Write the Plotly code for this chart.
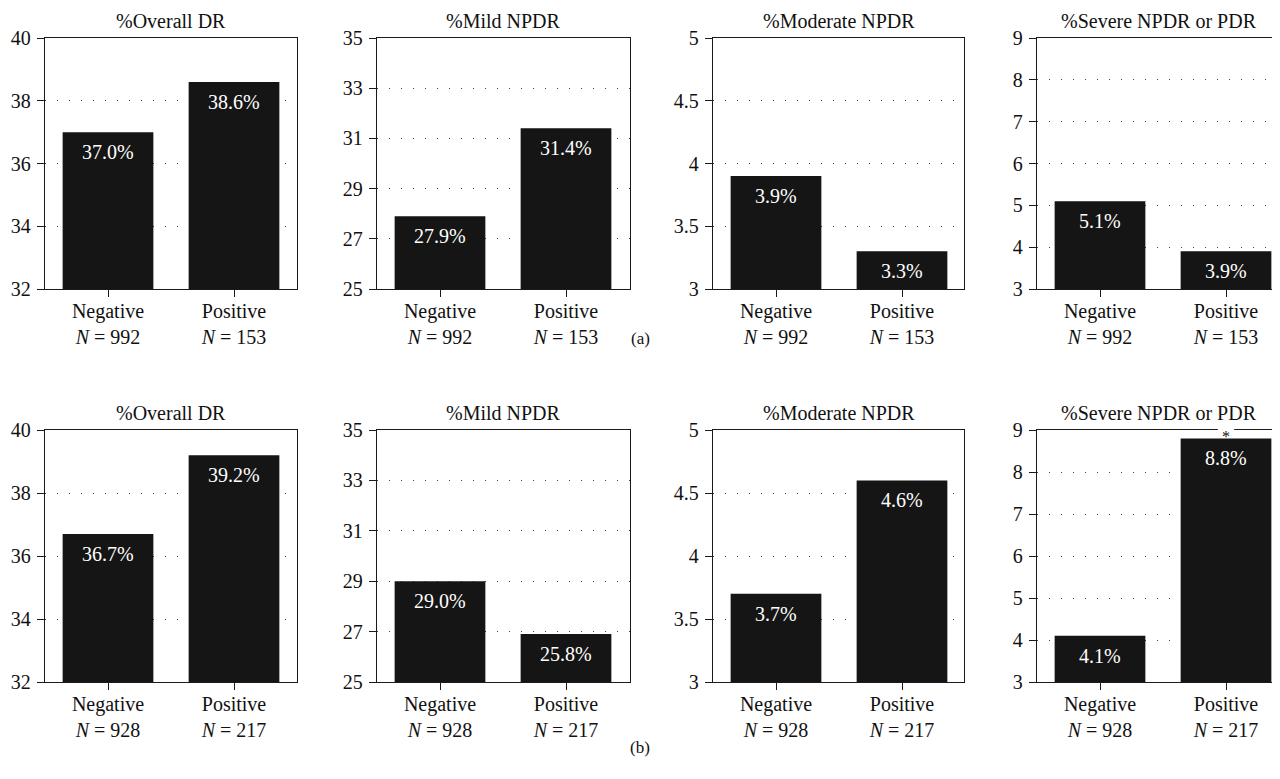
import plotly.graph_objects as go

# ---------------- data ----------------
categories = ["Negative", "Positive"]
titles = ["%Overall DR", "%Mild NPDR", "%Moderate NPDR", "%Severe NPDR or PDR"]

n_top = [992, 153]
n_bottom = [928, 217]

# bar heights as drawn in the picture
values_top = [
    [37.0, 38.6],
    [27.9, 31.4],
    [3.9, 3.3],
    [5.1, 3.9],
]
values_bottom = [
    [36.7, 39.2],
    [29.0, 26.9],
    [3.7, 4.6],
    [4.1, 8.8],
]
# printed value labels
labels_top = [
    ["37.0%", "38.6%"],
    ["27.9%", "31.4%"],
    ["3.9%", "3.3%"],
    ["5.1%", "3.9%"],
]
labels_bottom = [
    ["36.7%", "39.2%"],
    ["29.0%", "25.8%"],
    ["3.7%", "4.6%"],
    ["4.1%", "8.8%"],
]

y_ranges = [[32, 40], [25, 35], [3, 5], [3, 9]]
y_dticks = [2, 2, 0.5, 1]

row_labels = ["(a)", "(b)"]
significant_bottom = [[False, False], [False, False], [False, False], [False, True]]

# ---------------- layout geometry ----------------
W, H = 1280, 779
OFF = 8  # page body margin offset
FONT = "Liberation Serif"
x_px = [(45, 297), (377, 630), (713, 964), (1037, 1280)]
y_px = [(38, 289), (430, 682)]
BAR_COLOR = "#151515"
LINE_COLOR = "#1a1a1a"
TXT = "#111"

fig = go.Figure()
annotations = []
shapes = []

rows = [
    (values_top, labels_top, n_top, [[False, False]] * 4),
    (values_bottom, labels_bottom, n_bottom, significant_bottom),
]

for r, (vals, labs, ns, sig) in enumerate(rows):
    for c in range(4):
        idx = r * 4 + c + 1
        xa = "x" if idx == 1 else f"x{idx}"
        ya = "y" if idx == 1 else f"y{idx}"
        xkey = "xaxis" if idx == 1 else f"xaxis{idx}"
        ykey = "yaxis" if idx == 1 else f"yaxis{idx}"

        fig.add_trace(go.Bar(
            x=categories, y=vals[c], xaxis=xa, yaxis=ya,
            marker=dict(color=BAR_COLOR, line=dict(width=0)),
            showlegend=False, hoverinfo="skip",
        ))

        x0p, x1p = x_px[c][0] - OFF, x_px[c][1] - OFF
        y0p, y1p = y_px[r][0] - OFF, y_px[r][1] - OFF
        # category spacing fixed at 126 px per unit
        xr_max = -0.5 + (x1p - x0p) / 126.0
        ticktext = [f"{cat}<br><i>N</i> = {n}" for cat, n in zip(categories, ns)]

        fig.layout[xkey] = dict(
            domain=[x0p / W, x1p / W], anchor=ya,
            range=[-0.5, xr_max], type="category",
            tickmode="array", tickvals=categories, ticktext=ticktext,
            ticks="outside", ticklen=7, tickwidth=1.3, tickcolor=LINE_COLOR,
            showline=True, linecolor=LINE_COLOR, linewidth=1.3, mirror=True,
            showgrid=False, zeroline=False, fixedrange=True, automargin=False,
            ticklabelstandoff=-3,
            tickfont=dict(family=FONT, size=20, color=TXT),
        )
        fig.layout[ykey] = dict(
            domain=[1 - y1p / H, 1 - y0p / H], anchor=xa,
            range=y_ranges[c], dtick=y_dticks[c], tick0=y_ranges[c][0],
            ticks="outside", ticklen=7, tickwidth=1.3, tickcolor=LINE_COLOR,
            showline=True, linecolor=LINE_COLOR, linewidth=1.3,
            mirror=(c != 3),
            showgrid=True, gridcolor="#444", gridwidth=1.3, griddash="1px,11px",
            zeroline=False, fixedrange=True, ticklabelstandoff=2, automargin=False,
            tickfont=dict(family=FONT, size=20, color=TXT),
        )

        # panel title
        annotations.append(dict(
            text=titles[c], xref=f"{xa} domain", yref=f"{ya} domain",
            x=0.5, y=1, xanchor="center", yanchor="bottom", yshift=4,
            showarrow=False, font=dict(family=FONT, size=20, color=TXT),
        ))
        # value labels inside bars
        for cat, v, lab, s in zip(categories, vals[c], labs[c], sig[c]):
            annotations.append(dict(
                text=lab, xref=xa, yref=ya, x=cat, y=v,
                xanchor="center", yanchor="top", yshift=-7,
                showarrow=False, font=dict(family=FONT, size=20, color="white"),
            ))
            if s:
                shapes.append(dict(
                    type="line", xref=xa, yref=f"{ya} domain",
                    x0=categories.index(cat) - 0.065, x1=categories.index(cat) + 0.065,
                    y0=1, y1=1, line=dict(color="white", width=4), layer="above",
                ))
                annotations.append(dict(
                    text="*", xref=xa, yref=f"{ya} domain", x=cat, y=1,
                    xanchor="center", yanchor="top", yshift=3, borderpad=0,
                    height=13, valign="top",
                    showarrow=False, font=dict(family=FONT, size=16, color=TXT),
                ))

# row sub-captions
for lab, ypix in zip(row_labels, [338, 747]):
    annotations.append(dict(
        text=lab, xref="paper", yref="paper", x=(640 - OFF) / W, y=1 - (ypix - OFF) / H,
        xanchor="center", yanchor="middle", showarrow=False,
        font=dict(family=FONT, size=17, color=TXT),
    ))

fig.update_layout(
    width=W, height=H,
    margin=dict(l=0, r=0, t=0, b=0, autoexpand=False),
    paper_bgcolor="white", plot_bgcolor="white",
    bargap=0.28,
    annotations=annotations, shapes=shapes,
    showlegend=False,
)

fig.write_html("out.html", config={"displayModeBar": False})
